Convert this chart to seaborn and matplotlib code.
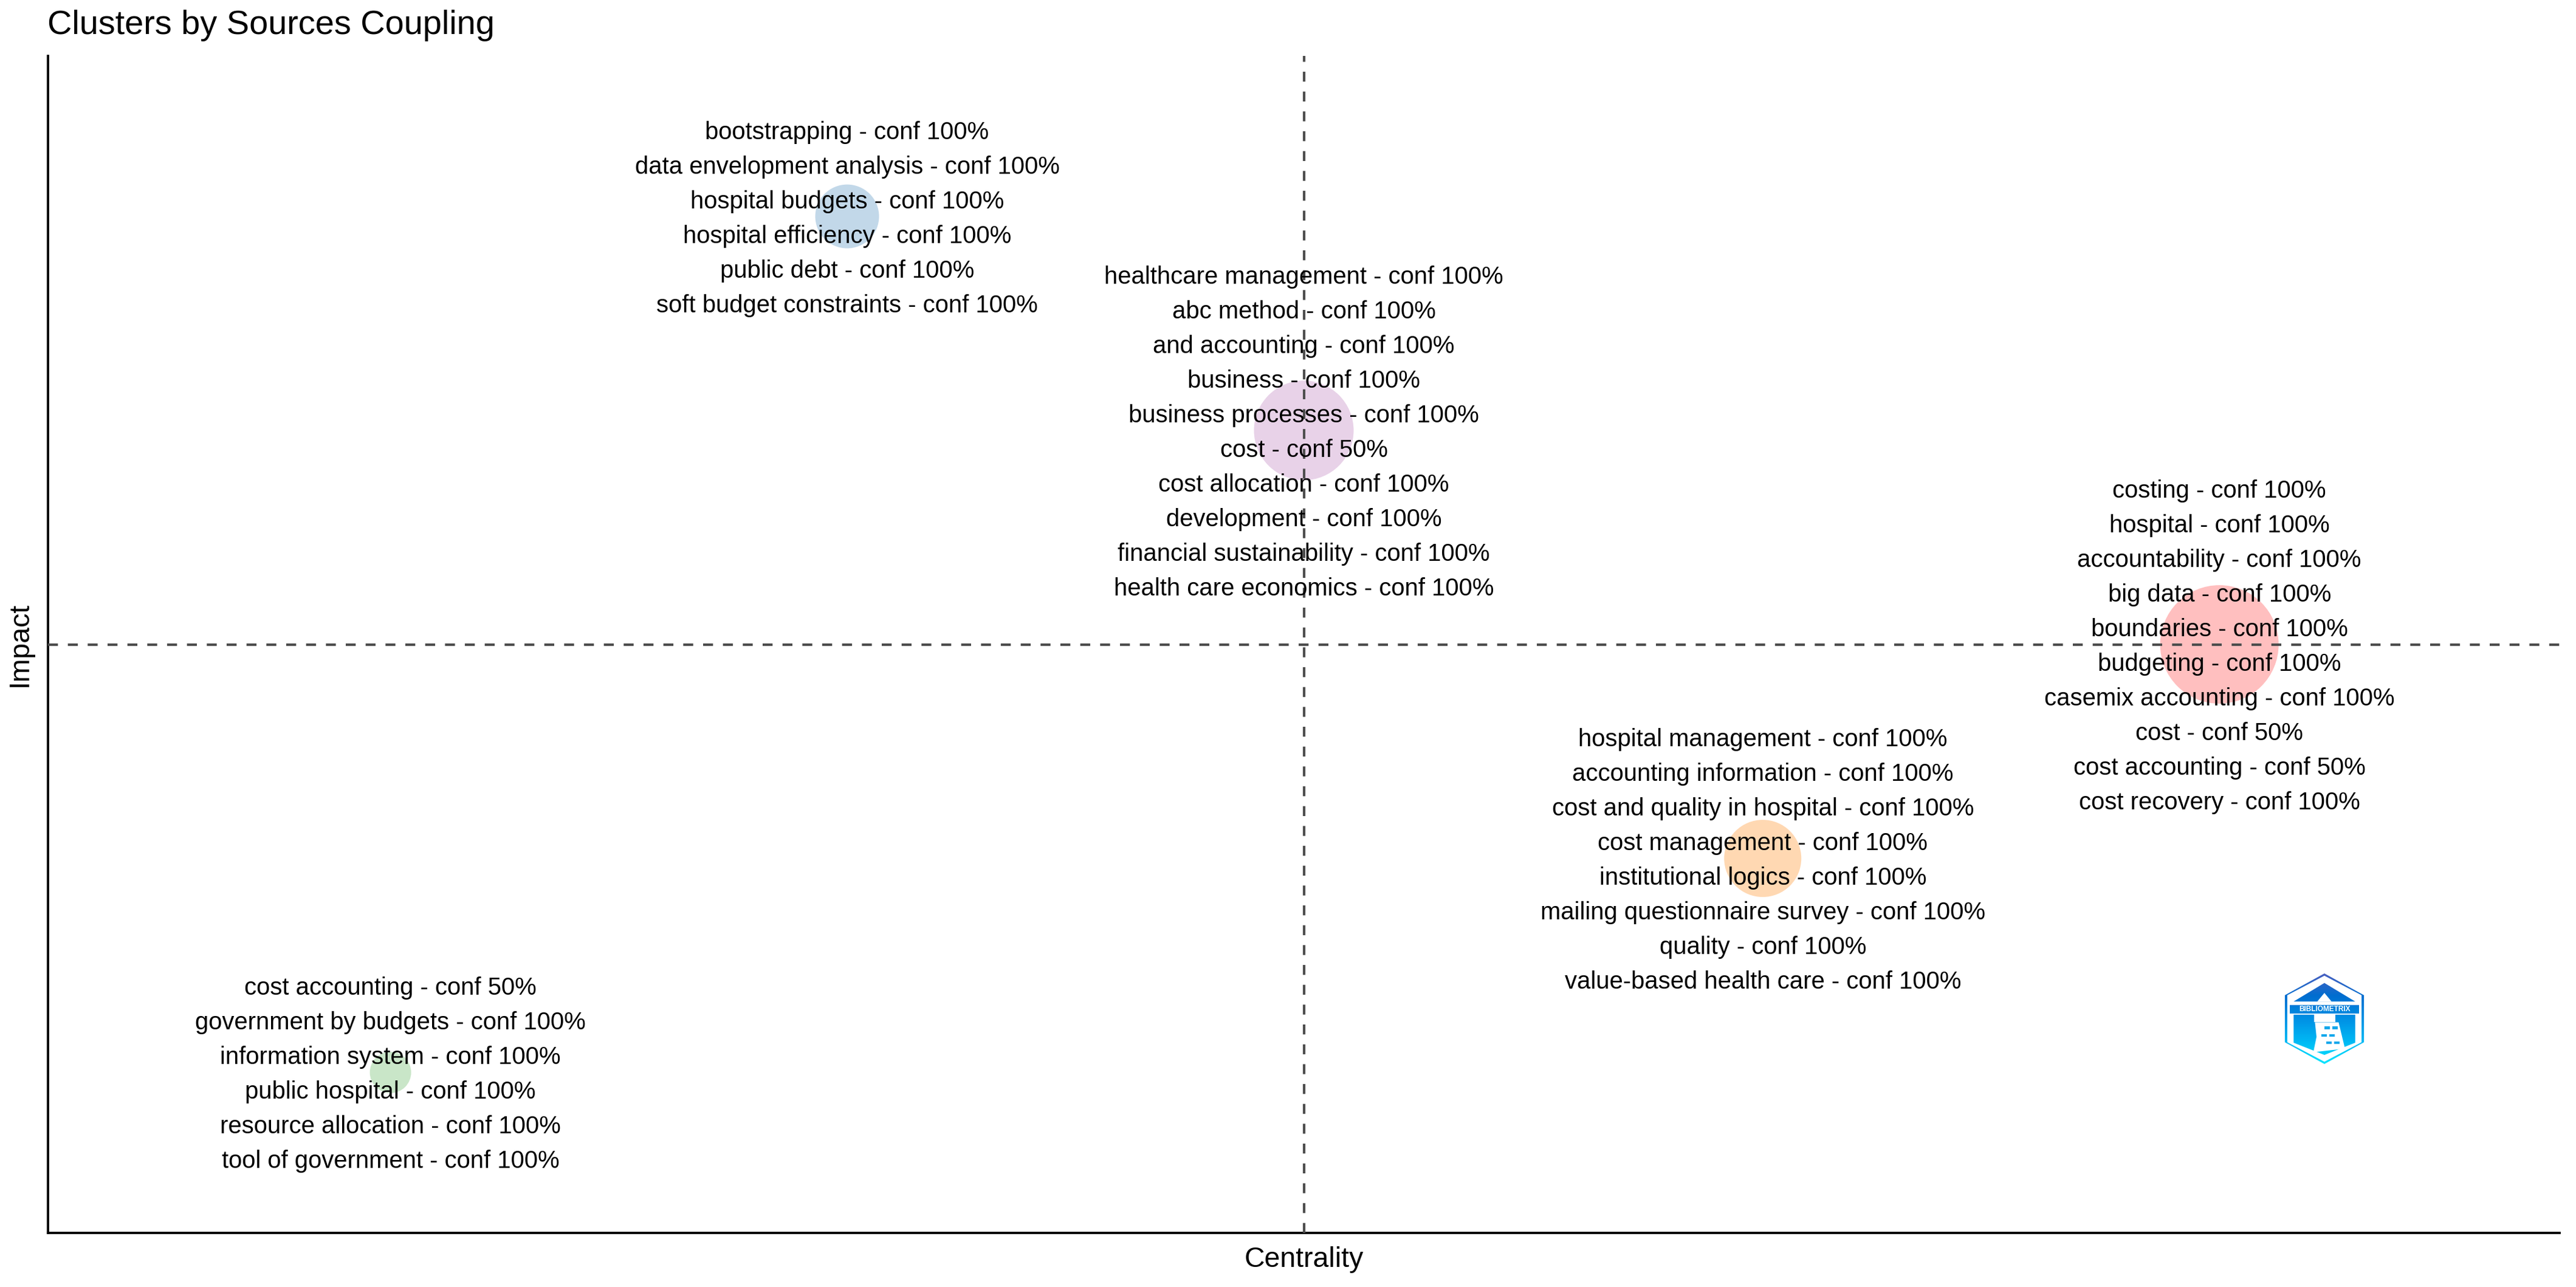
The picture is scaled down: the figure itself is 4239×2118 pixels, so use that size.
import numpy as np
import pandas as pd
import matplotlib
matplotlib.use("Agg")
import matplotlib.pyplot as plt
from matplotlib.colors import LinearSegmentedColormap
from matplotlib.patches import Polygon, Rectangle
import seaborn as sns

# cluster order: blue, purple, red, orange, green
CENTRALITY_RANK = [2, 3, 5.005, 4.005, 1]
IMPACT_RANK = [5, 4, 3, 2, 1]
CLUSTER_DIAMETER = [105, 164, 195, 127, 68]  # px on the final figure
CLUSTER_COLORS = ["#377EB8", "#B66CB6", "#FF2D2D", "#FF7F00", "#4DAF4A"]

LABELS_BLUE = [
    "bootstrapping - conf 100%",
    "data envelopment analysis - conf 100%",
    "hospital budgets - conf 100%",
    "hospital efficiency - conf 100%",
    "public debt - conf 100%",
    "soft budget constraints - conf 100%",
]
LABELS_PURPLE = [
    "healthcare management - conf 100%",
    "abc method - conf 100%",
    "and accounting - conf 100%",
    "business - conf 100%",
    "business processes - conf 100%",
    "cost - conf 50%",
    "cost allocation - conf 100%",
    "development - conf 100%",
    "financial sustainability - conf 100%",
    "health care economics - conf 100%",
]
LABELS_RED = [
    "costing - conf 100%",
    "hospital - conf 100%",
    "accountability - conf 100%",
    "big data - conf 100%",
    "boundaries - conf 100%",
    "budgeting - conf 100%",
    "casemix accounting - conf 100%",
    "cost - conf 50%",
    "cost accounting - conf 50%",
    "cost recovery - conf 100%",
]
LABELS_ORANGE = [
    "hospital management - conf 100%",
    "accounting information - conf 100%",
    "cost and quality in hospital - conf 100%",
    "cost management - conf 100%",
    "institutional logics - conf 100%",
    "mailing questionnaire survey - conf 100%",
    "quality - conf 100%",
    "value-based health care - conf 100%",
]
LABELS_GREEN = [
    "cost accounting - conf 50%",
    "government by budgets - conf 100%",
    "information system - conf 100%",
    "public hospital - conf 100%",
    "resource allocation - conf 100%",
    "tool of government - conf 100%",
]
CLUSTER_LABELS = [LABELS_BLUE, LABELS_PURPLE, LABELS_RED, LABELS_ORANGE, LABELS_GREEN]

W, H, DPI = 4239, 2118, 100
PX = 72 / DPI  # one pixel in points
LINE_STEP = 57 * PX  # label row spacing
BASE_DROP = 15 * PX  # middle of the label block sits a bit below the point


def draw_logo(fig):
    # small hexagon logo, lower right
    x0, x1, y0, y1 = 3760, 3890, 1602, 1751
    ax = fig.add_axes([x0 / W, 1 - y1 / H, (x1 - x0) / W, (y1 - y0) / H])
    ax.axis("off")
    cmap = LinearSegmentedColormap.from_list(
        "logo", ["#00E5FF", "#00B8F4", "#0090E4", "#006ED0", "#4A5FC0"]
    )
    grad = np.linspace(0, 1, 256).reshape(-1, 1)

    def hexagon(mx, my):
        return [
            [0.5, 1 - my],
            [1 - mx, 0.76],
            [1 - mx, 0.24],
            [0.5, my],
            [mx, 0.24],
            [mx, 0.76],
        ]

    def gradient_shape(points, zorder):
        im = ax.imshow(grad, cmap=cmap, origin="lower", extent=[0, 1, 0, 1],
                       aspect="auto", vmin=0, vmax=1, zorder=zorder)
        im.set_clip_path(Polygon(points, transform=ax.transData))

    gradient_shape(hexagon(0.0, 0.0), 1)
    ax.add_patch(Polygon(hexagon(0.03, 0.025), fc="white", ec="none", zorder=2))
    # roof, name band and lower body
    gradient_shape([[0.5, 0.895], [0.89, 0.69], [0.11, 0.69]], 3)
    gradient_shape([[0.06, 0.65], [0.94, 0.65], [0.94, 0.56], [0.06, 0.56]], 3)
    gradient_shape([[0.11, 0.545], [0.89, 0.545], [0.89, 0.235], [0.5, 0.10], [0.11, 0.235]], 3)
    # lighthouse
    ax.add_patch(Polygon([[0.5, 0.785], [0.59, 0.69], [0.41, 0.69]], fc="white", ec="none", zorder=4))
    ax.add_patch(Polygon([[0.37, 0.56], [0.64, 0.56], [0.64, 0.46], [0.37, 0.46]], fc="white", ec="none", zorder=4))
    ax.add_patch(Polygon([[0.38, 0.46], [0.68, 0.46], [0.76, 0.17], [0.36, 0.13], [0.40, 0.30]],
                         fc="white", ec="none", zorder=4))
    for bx, by in [(0.50, 0.385), (0.60, 0.385), (0.46, 0.30), (0.56, 0.30), (0.52, 0.22), (0.62, 0.22)]:
        ax.add_patch(Rectangle((bx, by), 0.07, 0.03, fc="#12A8EC", ec="none", zorder=5))
    ax.text(0.5, 0.604, "BIBLIOMETRIX", ha="center", va="center", fontsize=8.6,
            fontweight="bold", color="white", zorder=6)
    ax.set_xlim(0, 1)
    ax.set_ylim(0, 1)


def main():
    sns.set_theme(style="white")
    plt.rcParams["font.family"] = ["Liberation Sans", "DejaVu Sans"]

    df = pd.DataFrame(
        {
            "centrality": CENTRALITY_RANK,
            "impact": IMPACT_RANK,
            "diameter": CLUSTER_DIAMETER,
            "cluster": range(len(CENTRALITY_RANK)),
        }
    )

    fig = plt.figure(figsize=(W / DPI, H / DPI), dpi=DPI)
    ax = fig.add_axes([79 / W, 1 - 2029 / H, (4212 - 79) / W, (2029 - 92) / H])

    sizes = {d: (d * PX) ** 2 for d in CLUSTER_DIAMETER}
    sns.scatterplot(
        data=df,
        x="centrality",
        y="impact",
        hue="cluster",
        palette=CLUSTER_COLORS,
        size="diameter",
        sizes=sizes,
        alpha=0.3,
        linewidth=0,
        legend=False,
        ax=ax,
        zorder=2,
    )

    ax.set_xlim(0.25, 5.75)
    ax.set_ylim(0.25, 5.75)
    ax.axvline(np.median(CENTRALITY_RANK), color="#4D4D4D", lw=2.94, ls=(0, (4, 4)), zorder=4)
    ax.axhline(np.median(IMPACT_RANK), color="#4D4D4D", lw=2.94, ls=(0, (4, 4)), zorder=4)

    for x, y, rows in zip(CENTRALITY_RANK, IMPACT_RANK, CLUSTER_LABELS):
        for i, row in enumerate(rows):
            ax.annotate(
                row,
                (x, y),
                xytext=(0, ((len(rows) - 1) / 2 - i) * LINE_STEP - BASE_DROP),
                textcoords="offset points",
                ha="center",
                va="baseline",
                fontsize=28.8,
                color="black",
                zorder=5,
            )

    sns.despine(ax=ax)
    for side in ["left", "bottom"]:
        ax.spines[side].set_color("black")
        ax.spines[side].set_linewidth(2.7)
    ax.set_xticks([])
    ax.set_yticks([])
    ax.set_xlabel("Centrality", fontsize=33.4, labelpad=15.8, color="black")
    ax.set_ylabel("Impact", fontsize=33.4, labelpad=17.6, color="black")
    fig.text(78 / W, 1 - 56 / H, "Clusters by Sources Coupling", fontsize=40.2, color="black", va="baseline")

    draw_logo(fig)
    fig.savefig("out.png", dpi=DPI)
    plt.close(fig)


if __name__ == "__main__":
    main()
